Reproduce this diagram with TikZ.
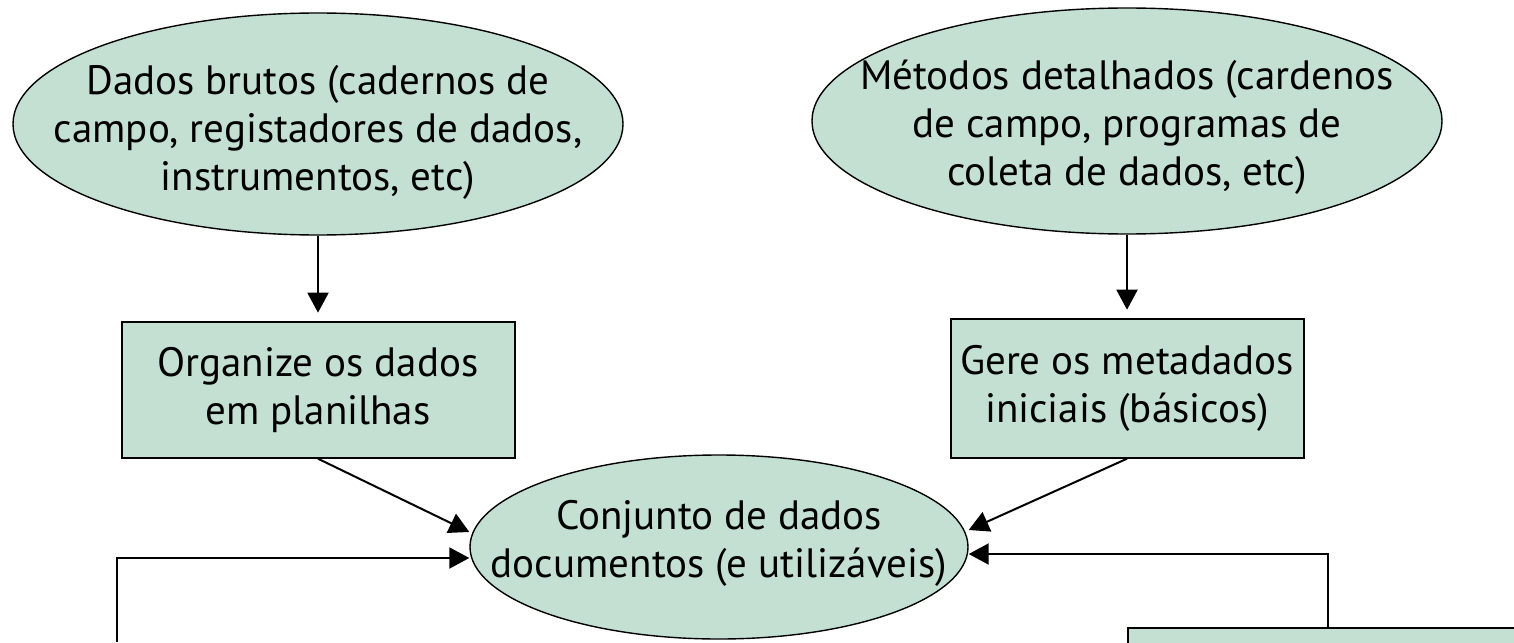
\documentclass[tikz,border=0pt]{standalone}
\usepackage{fontspec}
\setmainfont{PT Sans}
\usepackage{xcolor}
\usetikzlibrary{positioning,shapes.geometric,arrows.meta}
\definecolor{sage}{RGB}{195,224,211}

\begin{document}
\begin{tikzpicture}[x=0.5pt,y=-0.5pt,
    oval/.style={ellipse,draw,fill=sage,line width=0.7pt,inner sep=0pt},
    card/.style={rectangle,draw,fill=sage,line width=1pt,inner sep=0pt,txt},
    txt/.style={align=center,font=\fontsize{20.5}{24}\selectfont},
    arr/.style={-{Triangle[length=10pt,width=10.5pt]},line width=1pt}]
  \useasboundingbox (0,0) rectangle (1514,642);
  \clip (0,0) rectangle (1514,642);

  \node[oval,minimum width=305pt,minimum height=111pt,
    label={[txt,yshift=-4pt]center:{Dados brutos (cadernos de\\campo, registadores de dados,\\instrumentos, etc)}}] (raw) at (318,124) {};
  \node[oval,minimum width=315pt,minimum height=113pt,
    label={[txt,yshift=-3pt]center:{Métodos detalhados (cardenos\\de campo, programas de\\coleta de dados, etc)}}] (meth) at (1127,121) {};

  \node[card,minimum width=196.5pt,minimum height=68pt,below=42.5pt of raw] (org) {Organize os dados\\em planilhas};
  \node[card,minimum width=176.5pt,minimum height=69.5pt,below=41.5pt of meth] (meta) {Gere os metadados\\iniciais (básicos)};

  \node[oval,minimum width=249pt,minimum height=92pt,
    label={[txt,yshift=2pt]center:{Conjunto de dados\\documentos (e utilizáveis)}}] (set) at (719,547) {};

  % next step, cut off at the bottom
  \node[card,anchor=north west,minimum width=300pt,minimum height=60pt] (nxt) at (1127,627) {};
  \coordinate (back) at (117,642);

  \draw[arr,shorten >=4pt] (raw) -- (org);
  \draw[arr,shorten >=4pt] (meth) -- (meta);
  \draw[arr] (org.south) -- ([yshift=7.5pt]set.west);
  \draw[arr] (meta.south) -- ([yshift=8.5pt]set.east);
  \draw[arr] (back) |- ([yshift=-5.5pt]set.west);
  \draw[arr] ([xshift=100.5pt]nxt.north west) |- ([yshift=-3.5pt]set.east);
\end{tikzpicture}
\end{document}
